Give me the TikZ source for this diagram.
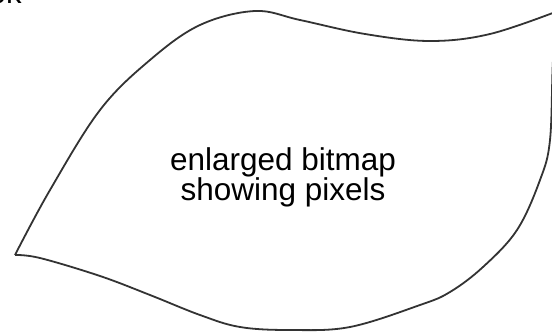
\documentclass[tikz,border=0pt]{standalone}
\usepackage{fontspec}
\setmainfont{Liberation Sans}
\usetikzlibrary{positioning}

\begin{document}
\begin{tikzpicture}[x=1pt, y=-1pt, thick]

	% Define styles
	\tikzstyle{outline} = [draw=black!80, line width=1.8pt, line join=round]
	\tikzstyle{caption} = [inner sep=0pt, align=center, font=\fontsize{31.5}{26}\selectfont]

	\useasboundingbox (0,0) rectangle (552,332);

	% Corners
	\coordinate (corner left) at (15,255);
	\coordinate (corner right) at (558,11);

	% Outline
	\draw[outline] plot[smooth, tension=0.6] coordinates {(corner left) (50,190) (100,110) (150,60) (200,25) (255,11) (300,20) (365,34) (430,41) (490,34) (corner right)};
	\draw[outline] plot[smooth, tension=0.6] coordinates {(corner right) (553,60) (550,140) (540,180) (517,230) (483,267) (450,292) (420,305) (350,327) (290,330) (240,327) (200,315) (150,295) (100,276) (40,258) (corner left)};

	% Labels
	\node[caption] (label) at (283,177.5) {enlarged bitmap\\showing pixels};
	\node[anchor=base east, inner sep=0pt, font=\fontsize{31}{26}\selectfont] (cut) at (22,4) {ok};

\end{tikzpicture}
\end{document}
